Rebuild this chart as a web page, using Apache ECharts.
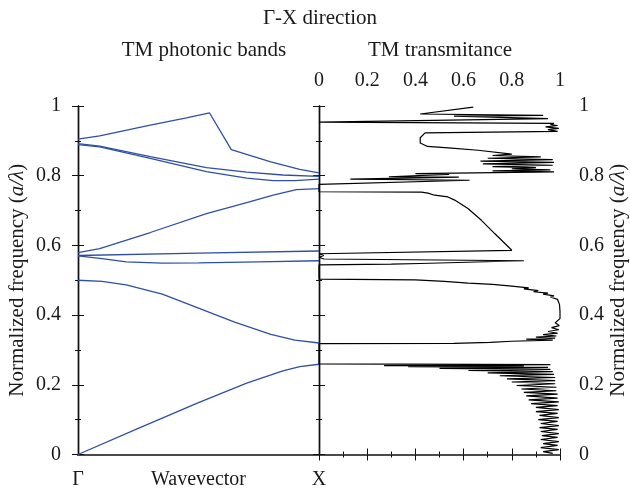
<!DOCTYPE html>
<html>
<head>
<meta charset="utf-8">
<script src="https://cdn.jsdelivr.net/npm/echarts@6/dist/echarts.min.js"></script>
<style>
  html, body { margin: 0; padding: 0; background: #fff; }
  #main { width: 630px; height: 491px; }
</style>
</head>
<body>
<div id="main"></div>
<script>
// photonic bands, Γ (0) to X (1)
var band1 = [[0,0],[0.25,0.075],[0.5,0.149],[0.7,0.205],[0.85,0.24],[0.92,0.252],[1,0.259]];
var band2 = [[0,0.5],[0.1,0.497],[0.2,0.487],[0.35,0.46],[0.5,0.42],[0.65,0.38],[0.8,0.345],[0.9,0.328],[1,0.32]];
var band3 = [[0,0.57],[0.1,0.562],[0.2,0.553],[0.35,0.549],[0.5,0.55],[0.75,0.553],[1,0.556]];
var band4 = [[0,0.571],[0.5,0.578],[1,0.584]];
var band5 = [[0,0.579],[0.09,0.591],[0.3,0.637],[0.533,0.691],[0.7,0.723],[0.81,0.744],[0.906,0.76],[1,0.763]];
var band6 = [[0,0.889],[0.09,0.883],[0.3,0.85],[0.533,0.812],[0.7,0.793],[0.81,0.786],[0.9,0.786],[1,0.79]];
var band7 = [[0,0.892],[0.09,0.885],[0.3,0.855],[0.533,0.823],[0.7,0.81],[0.85,0.802],[1,0.798]];
var band8 = [[0,0.905],[0.09,0.914],[0.3,0.945],[0.45,0.966],[0.546,0.98],[0.636,0.875],[0.8,0.84],[0.92,0.818],[1,0.808]];

// transmittance [T, frequency]
var transmittance = [
  [0.97,0.003],[0.93,0.008],[0.995,0.014],[0.92,0.02],[0.99,0.026],[0.93,0.031],[0.995,0.037],[0.92,0.043],
  [0.99,0.049],[0.925,0.054],[0.995,0.06],[0.92,0.066],[0.99,0.072],[0.915,0.077],[0.995,0.083],[0.92,0.089],
  [0.99,0.095],[0.91,0.1],[0.995,0.106],[0.915,0.112],[0.99,0.118],[0.9,0.123],[0.995,0.129],[0.9,0.135],
  [0.99,0.14],[0.88,0.146],[0.995,0.151],[0.87,0.157],[0.99,0.162],[0.86,0.168],[0.99,0.173],[0.85,0.178],
  [0.985,0.183],[0.84,0.188],[0.985,0.193],[0.82,0.198],[0.98,0.203],[0.8,0.208],[0.98,0.212],[0.78,0.217],
  [0.98,0.221],[0.75,0.226],[0.975,0.23],[0.7,0.234],[0.97,0.238],[0.62,0.241],[0.96,0.244],[0.5,0.247],
  [0.95,0.25],[0.37,0.252],[0.85,0.254],[0.27,0.255],[0.96,0.258],[0,0.26],
  [0,0.318],[0.56,0.319],[0.71,0.322],[0.8,0.325],[0.97,0.328],[0.86,0.331],[0.98,0.334],[0.9,0.337],
  [0.985,0.34],[0.93,0.344],[0.99,0.348],[0.95,0.353],[0.995,0.358],[0.965,0.364],[0.997,0.37],[0.98,0.378],
  [1,0.39],[1,0.41],[0.998,0.43],[0.99,0.445],[0.96,0.452],[0.975,0.455],[0.93,0.46],[0.95,0.463],
  [0.89,0.467],[0.91,0.47],[0.85,0.475],[0.87,0.478],[0.8,0.483],[0.72,0.488],[0.62,0.492],[0.52,0.497],
  [0.4,0.501],[0,0.503],
  [0,0.544],[0.3,0.546],[0.42,0.548],[0.85,0.556],[0.02,0.561],[0,0.566],[0.02,0.571],[0,0.576],[0.8,0.586],
  [0.729,0.634],[0.674,0.672],[0.618,0.706],[0.563,0.73],[0.535,0.739],[0.48,0.744],[0.452,0.75],[0.425,0.753],[0,0.754],
  [0,0.775],[0.625,0.787],[0.13,0.79],[0.58,0.796],[0.29,0.797],[0.54,0.804],[0.4,0.806],[0.975,0.811],
  [0.72,0.814],[0.96,0.817],[0.8,0.82],[0.9,0.823],[0.72,0.826],[0.97,0.83],[0.68,0.834],[0.975,0.838],
  [0.67,0.842],[0.97,0.846],[0.7,0.85],[0.92,0.854],[0.72,0.858],[0.8,0.862],[0.66,0.873],[0.55,0.879],
  [0.45,0.884],[0.42,0.894],[0.42,0.909],[0.44,0.923],[0.99,0.927],[0.95,0.932],[0.995,0.936],[0.94,0.94],
  [0.99,0.944],[0.96,0.947],[0.975,0.95],[0,0.954],[0,0.958],[0.95,0.964],[0.56,0.971],[0.93,0.973],
  [0.42,0.977],[0.64,0.997]
];

var bottomLabels = {0: 'Γ', 0.5: 'Wavevector', 1: 'X'};
var yName = 'Normalized frequency ({i|a/λ})';

var FONT = 'Liberation Serif';
var txt = { fontFamily: FONT, fontSize: 20, color: '#1a1a1a' };
var nameTxt = { fontFamily: FONT, fontSize: 21, color: '#1a1a1a',
    rich: { i: { fontFamily: FONT, fontSize: 21, fontStyle: 'italic', color: '#1a1a1a' } } };
var hLine = { lineStyle: { color: '#4a4a4a', width: 2 } };
var vLine = { lineStyle: { color: '#111', width: 1.4 } };

function ticks(show) {
    return {
        axisTick: { show: show, inside: true, length: 6, lineStyle: { color: '#111', width: 1 } },
        minorTick: { show: show, splitNumber: 2, length: 3, lineStyle: { color: '#111', width: 1 } }
    };
}

function axis(base, extra) {
    var o = {};
    var k;
    for (k in base) o[k] = base[k];
    for (k in extra) o[k] = extra[k];
    return o;
}

var common = { type: 'value', min: 0, max: 1, splitLine: { show: false } };

var chart = echarts.init(document.getElementById('main'));

var bands = [band1, band2, band3, band4, band5, band6, band7, band8];
var series = bands.map(function (b) {
    return {
        type: 'line', xAxisIndex: 0, yAxisIndex: 0, data: b,
        symbol: 'none', lineStyle: { color: '#2f4fa6', width: 1.3 }
    };
});
series.push({
    type: 'line', xAxisIndex: 2, yAxisIndex: 3, data: transmittance,
    symbol: 'none', lineStyle: { color: '#000', width: 1.2 }
});

var titleFont = '21px "Liberation Serif"';

chart.setOption({
    animation: false,
    backgroundColor: '#fff',
    grid: [
        { left: 78, top: 106, width: 241, height: 348.5 },
        { left: 319, top: 106, width: 241, height: 348.5 }
    ],
    graphic: [
        { type: 'text', x: 320, y: 18, style: { text: 'Γ-X direction', font: titleFont, align: 'center', verticalAlign: 'middle', fill: '#1a1a1a' } },
        { type: 'text', x: 204, y: 50, style: { text: 'TM photonic bands', font: titleFont, align: 'center', verticalAlign: 'middle', fill: '#1a1a1a' } },
        { type: 'text', x: 440, y: 50, style: { text: 'TM transmitance', font: titleFont, align: 'center', verticalAlign: 'middle', fill: '#1a1a1a' } }
    ],
    xAxis: [
        axis(common, {
            gridIndex: 0, position: 'bottom', interval: 0.5,
            axisLine: hLine, axisTick: { show: false },
            axisLabel: axis(txt, { margin: 15, showMinLabel: true, showMaxLabel: true,
                formatter: function (v) { return bottomLabels[v] || ''; } })
        }),
        axis(common, {
            gridIndex: 0, position: 'top', axisLine: hLine,
            axisTick: { show: false }, axisLabel: { show: false }
        }),
        axis(common, axis(ticks(true), {
            gridIndex: 1, position: 'top', interval: 0.2, axisLine: hLine,
            axisLabel: axis(txt, { margin: 15, showMinLabel: true, showMaxLabel: true })
        })),
        axis(common, axis(ticks(true), {
            gridIndex: 1, position: 'bottom', interval: 0.2, axisLine: hLine,
            axisLabel: { show: false }
        }))
    ],
    yAxis: [
        axis(common, axis(ticks(true), {
            gridIndex: 0, position: 'left', interval: 0.2, axisLine: vLine,
            axisLabel: axis(txt, { margin: 17, showMinLabel: true, showMaxLabel: true }),
            name: yName, nameLocation: 'middle', nameGap: 50, nameTextStyle: nameTxt
        })),
        axis(common, axis(ticks(true), {
            gridIndex: 0, position: 'right', interval: 0.2, axisLine: vLine,
            axisLabel: { show: false }
        })),
        axis(common, axis(ticks(true), {
            gridIndex: 1, position: 'left', interval: 0.2, axisLine: vLine,
            axisLabel: { show: false }
        })),
        axis(common, axis(ticks(true), {
            gridIndex: 1, position: 'right', interval: 0.2, axisLine: vLine,
            axisLabel: axis(txt, { margin: 19, showMinLabel: true, showMaxLabel: true }),
            name: yName, nameLocation: 'middle', nameGap: 46, nameTextStyle: nameTxt
        }))
    ],
    series: series
});
</script>
</body>
</html>
